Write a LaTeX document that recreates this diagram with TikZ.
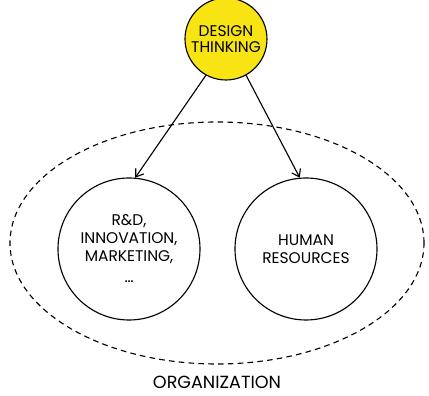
\documentclass[tikz,border=0pt]{standalone}
\usepackage{fontspec}
\setmainfont{Poppins}
\usepackage{tikz}
\usetikzlibrary{shapes.geometric, arrows.meta, positioning}

\definecolor{dtyellow}{RGB}{248,228,18}

\tikzset{
  unit/.style={draw,circle,line width=0.8pt,align=center,font=\fontsize{11}{12.5}\selectfont,inner sep=0pt},
  link/.style={-{Straight Barb[length=5pt,width=7pt]},line width=0.8pt}
}

\begin{document}
\begin{tikzpicture}
\useasboundingbox (0,0) rectangle (10.725,9.9);

% organization
\node[draw,ellipse,dashed,dash pattern=on 4pt off 3pt,line width=0.8pt,minimum width=10.35cm,minimum height=6.05cm] (org) at (5.425,3.825) {};
\node[font=\fontsize{12.5}{14}\selectfont] (orglabel) at (5.425,0.33) {ORGANIZATION};

\node[unit,fill=dtyellow,minimum size=2.05cm,font=\fontsize{11}{11}\selectfont] (dt) at (5.65,8.925) {DESIGN\\THINKING};
\node[unit,minimum size=3.55cm] (rnd) at (3.225,3.675) {R\&D,\\INNOVATION,\\MARKETING,\\[3pt]\ldots};
\node[unit,minimum size=3.55cm] (hr) at (7.65,3.675) {HUMAN\\RESOURCES};

\draw[link] (dt.241) -- (rnd.85);
\draw[link] (dt.299) -- (hr.95);
\end{tikzpicture}
\end{document}
